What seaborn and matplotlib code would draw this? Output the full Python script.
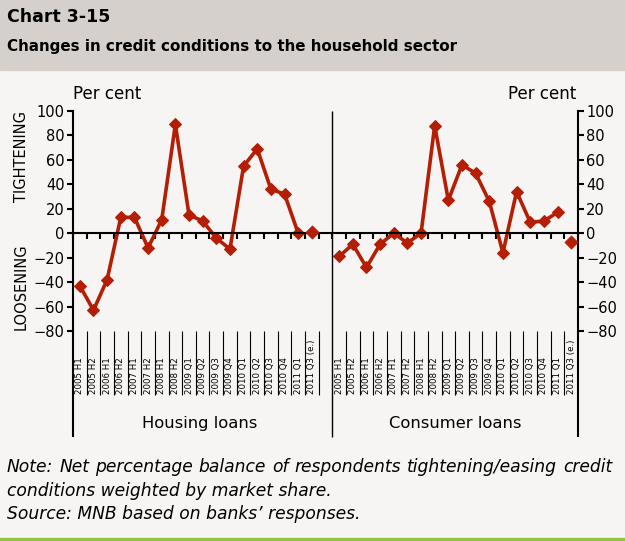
import numpy as np
import pandas as pd
import matplotlib
matplotlib.use('Agg')
import matplotlib.pyplot as plt
from matplotlib.patches import Rectangle
import seaborn as sns

# Category labels (same periods for both panels)
periods = ['2005 H1', '2005 H2', '2006 H1', '2006 H2', '2007 H1', '2007 H2',
           '2008 H1', '2008 H2', '2009 Q1', '2009 Q2', '2009 Q3', '2009 Q4',
           '2010 Q1', '2010 Q2', '2010 Q3', '2010 Q4', '2011 Q1', '2011 Q3 (e.)']
groups = ['Housing loans', 'Consumer loans']

# Net percentage balance (last value is an estimate, not joined to the line)
housing = [-43, -63, -38, 13, 13, -12, 11, 89, 15, 10, -4, -13, 55, 69, 36, 32, 0, 1]
consumer = [-19, -9, -28, -9, 0, -8, 0, 88, 27, 56, 49, 26, -16, 34, 9, 10, 17, -7]

y_ticks = [-80, -60, -40, -20, 0, 20, 40, 60, 80, 100]

red = '#B41E04'
bg = '#F6F5F3'

# one blank category between the two panels
n = len(periods)
rows = []
for g, (name, vals) in enumerate(zip(groups, [housing, consumer])):
    for i, (p, v) in enumerate(zip(periods, vals)):
        rows.append({'group': name, 'period': p, 'pos': g * (n + 1) + i,
                     'value': v, 'estimate': i == n - 1})
df = pd.DataFrame(rows)

sns.set_style('ticks')
plt.rcParams['font.family'] = ['DejaVu Sans']
plt.rcParams['text.color'] = 'black'
plt.rcParams['xtick.color'] = 'black'
plt.rcParams['ytick.color'] = 'black'
plt.rcParams['axes.labelcolor'] = 'black'

fig = plt.figure(figsize=(6.25, 5.41), dpi=100, facecolor=bg)
ax = fig.add_axes([73 / 625, 210 / 541, 505 / 625, 220 / 541])
ax.set_facecolor(bg)

sns.lineplot(data=df[~df['estimate']], x='pos', y='value', units='group',
             estimator=None, color=red, linewidth=2.6, marker='D',
             markersize=6.5, markeredgecolor=red, ax=ax, legend=False)
sns.scatterplot(data=df[df['estimate']], x='pos', y='value', color=red,
                marker='D', s=45, edgecolor=red, ax=ax, legend=False, zorder=3)

total = 2 * n + 1
ax.set_xlim(-0.5, total - 0.5)
ax.set_ylim(-80, 100)
ax.set_yticks(y_ticks)
ax.set_xlabel('')
ax.set_ylabel('')

ax.spines['top'].set_visible(False)
for s in ['left', 'right', 'bottom']:
    ax.spines[s].set_linewidth(1.5)
    ax.spines[s].set_color('black')
ax.spines['bottom'].set_position(('data', 0))

ax.tick_params(axis='y', which='both', left=True, right=True, labelleft=True,
               labelright=True, direction='out', length=4, width=1.5,
               labelsize=10.5, pad=2)
ax.set_xticks([])
ax.set_xticks(np.arange(-0.5, total, 1), minor=True)
ax.tick_params(axis='x', which='minor', direction='out', length=4, width=1.5,
               labelbottom=False)

# divider between the panels and separators in the label area
tr = ax.get_xaxis_transform()
ax.vlines(n + 0.5, 1, -0.48, transform=tr, colors='black', linewidth=1,
          clip_on=False)
ax.vlines([-0.5, total - 0.5], 0, -0.48, transform=tr, colors='black',
          linewidth=1.5, clip_on=False)
inner = [b for b in np.arange(0.5, total - 1, 1) if b != n + 0.5]
ax.vlines(inner, 0, -0.29, transform=tr, colors='black', linewidth=0.8,
          clip_on=False)

for _, r in df.iterrows():
    ax.text(r['pos'], -0.288, r['period'], transform=tr, rotation=90,
            ha='center', va='bottom', fontsize=6.2)

ax.text((n + 0.5 - 0.5) / 2 - 0.25, -0.42, groups[0], transform=tr,
        ha='center', va='center', fontsize=11.8)
ax.text((n + 0.5 + total - 0.5) / 2, -0.42, groups[1], transform=tr,
        ha='center', va='center', fontsize=11.8)

ax.text(0, 1.035, 'Per cent', transform=ax.transAxes, ha='left',
        va='bottom', fontsize=12)
ax.text(0.996, 1.035, 'Per cent', transform=ax.transAxes, ha='right',
        va='bottom', fontsize=12)

ax.text(-0.102, 63, 'TIGHTENING', transform=ax.get_yaxis_transform(),
        rotation=90, ha='center', va='center', fontsize=10.5)
ax.text(-0.102, -44, 'LOOSENING', transform=ax.get_yaxis_transform(),
        rotation=90, ha='center', va='center', fontsize=10.5)

# header band, title and notes
fig.patches.append(Rectangle((0, 1 - 70 / 541), 1, 70 / 541,
                             transform=fig.transFigure, color='#D5D0CC',
                             zorder=0))
fig.patches.append(Rectangle((0, 0), 1, 3 / 541, transform=fig.transFigure,
                             color='#8DC63F', zorder=0))
fig.text(7 / 625, 1 - 17 / 541, 'Chart 3-15', ha='left', va='center',
         fontsize=12.5, fontweight='bold')
fig.text(7 / 625, 1 - 47 / 541,
         'Changes in credit conditions to the household sector',
         ha='left', va='center', fontsize=10.9, fontweight='bold')

notes = ['Note: Net percentage balance of respondents tightening/easing credit',
         'conditions weighted by market share.',
         'Source: MNB based on banks\u2019 responses.']
note_kw = dict(va='center', fontsize=12.3, style='italic')

# first note line is justified to the full width
words = notes[0].split()
y0 = 1 - 467 / 541
objs = [fig.text(0, y0, w, ha='left', **note_kw) for w in words]
fig.canvas.draw()
renderer = fig.canvas.get_renderer()
widths = [o.get_window_extent(renderer).width / 625 for o in objs]
x_left, x_right = 7 / 625, 612 / 625
gap = (x_right - x_left - sum(widths)) / (len(words) - 1)
x = x_left
for o, w in zip(objs, widths):
    o.set_x(x)
    x += w + gap

for k, line in enumerate(notes[1:], start=1):
    fig.text(7 / 625, 1 - (467 + 23.5 * k) / 541, line, ha='left', **note_kw)

fig.savefig('out.png', dpi=100, facecolor=bg)
